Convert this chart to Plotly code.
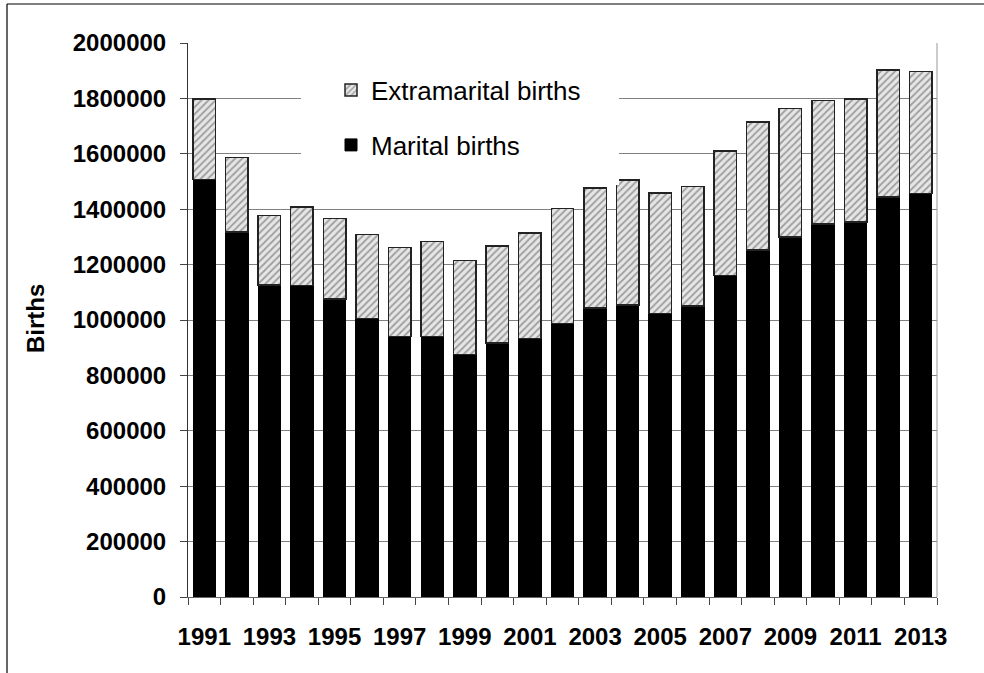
import plotly.graph_objects as go

years = list(range(1991, 2014))
marital = [1508000, 1318000, 1126000, 1125000, 1075000, 1005000, 940000, 940000,
           875000, 917000, 933000, 988000, 1043000, 1054000, 1023000, 1050000,
           1160000, 1253000, 1300000, 1347000, 1354000, 1444000, 1457000]
extramarital = [289000, 269000, 252000, 283000, 291000, 304000, 321000, 344000,
                339000, 350000, 381000, 414000, 433000, 451000, 435000, 432000,
                450000, 462000, 463000, 445000, 444000, 458000, 441000]
x_tick_years = list(range(1991, 2014, 2))
y_ticks = list(range(0, 2000001, 200000))

FONT = "Liberation Sans"

fig = go.Figure()
fig.add_trace(go.Bar(
    x=years, y=marital, name="Marital births", legend="legend2",
    marker=dict(color="black", line=dict(color="black", width=1)),
))
fig.add_trace(go.Bar(
    x=years, y=extramarital, name="Extramarital births", legend="legend",
    marker=dict(color="white",
                line=dict(color="#222222", width=1.5),
                pattern=dict(shape="/", fgcolor="#555555", bgcolor="#e6e6e6",
                             size=5, solidity=0.35)),
))

W, H = 984, 673
L, R, T, B = 188, 47, 43, 76
pw, ph = W - L - R, H - T - B

def px(xp):
    return (xp - L) / pw

def py(yp):
    return (H - B - yp) / ph

fig.update_layout(
    width=W, height=H,
    margin=dict(l=L, r=R, t=T, b=B),
    paper_bgcolor="white", plot_bgcolor="white",
    barmode="stack", bargap=0.31,
    font=dict(family=FONT, color="black"),
    showlegend=True,
    legend=dict(x=px(331), y=py(90), xanchor="left", yanchor="middle",
                bgcolor="rgba(0,0,0,0)", font=dict(family=FONT, size=26, color="black")),
    legend2=dict(x=px(331), y=py(145), xanchor="left", yanchor="middle",
                 bgcolor="rgba(0,0,0,0)", font=dict(family=FONT, size=26, color="black")),
    xaxis=dict(
        range=[1990.5, 2013.5],
        tickvals=x_tick_years, ticktext=[str(v) for v in x_tick_years],
        ticks="outside", ticklen=0,
        minor=dict(tickvals=[y + 0.5 for y in range(1990, 2014)], ticks="outside",
                   ticklen=7, tickcolor="#444444", tickwidth=1, showgrid=False),
        showline=True, linecolor="#666666", linewidth=1, mirror=False,
        showgrid=False, zeroline=False,
        tickfont=dict(family=FONT, size=24, color="black", weight="bold"),
        ticklabelstandoff=18,
    ),
    yaxis=dict(
        range=[0, 2000000],
        tickvals=y_ticks, ticktext=[str(v) for v in y_ticks],
        ticks="outside", ticklen=7, tickcolor="#444444", tickwidth=1,
        showline=True, linecolor="#333333", linewidth=1,
        showgrid=True, gridcolor="#808080", gridwidth=1,
        zeroline=False,
        tickfont=dict(family=FONT, size=24, color="black", weight="bold"),
        ticklabelstandoff=9,
    ),
)

# white box behind the legend (interrupts gridlines)
fig.add_shape(type="rect", xref="paper", yref="paper",
              x0=px(301), x1=px(619), y0=py(185), y1=py(58),
              fillcolor="white", line=dict(width=0), layer="above")
# right edge of plot area
fig.add_shape(type="line", xref="paper", yref="paper",
              x0=1, x1=1, y0=0, y1=1, line=dict(color="#999999", width=1))
# outer chart border (top and left visible)
fig.add_shape(type="line", xref="paper", yref="paper",
              x0=px(7), x1=px(990), y0=py(4), y1=py(4), line=dict(color="black", width=1.2))
fig.add_shape(type="line", xref="paper", yref="paper",
              x0=px(7), x1=px(7), y0=py(4), y1=py(680), line=dict(color="black", width=1.2))

fig.add_annotation(text="<b>Births</b>", xref="paper", yref="paper",
                   x=px(35), y=py(319), textangle=-90, showarrow=False,
                   xanchor="center", yanchor="middle",
                   font=dict(family=FONT, size=24, color="black"))

fig.write_html("out.html", config={"displayModeBar": False},
               post_script="document.body.style.margin='0';document.body.style.overflow='hidden';")
